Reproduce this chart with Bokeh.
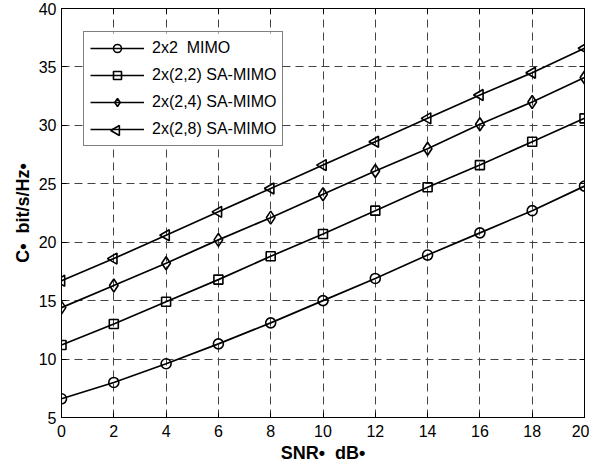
from bokeh.plotting import figure
from bokeh.models import Range1d, FixedTicker, LinearAxis, Legend, BoxAnnotation
from bokeh.embed import file_html
from bokeh.resources import INLINE
import math

snr = [0, 2, 4, 6, 8, 10, 12, 14, 16, 18, 20]
c_2x2 = [6.6, 8.0, 9.6, 11.3, 13.1, 15.0, 16.9, 18.9, 20.8, 22.7, 24.8]
c_2x22 = [11.2, 13.0, 14.9, 16.8, 18.8, 20.7, 22.7, 24.7, 26.6, 28.6, 30.6]
c_2x24 = [14.4, 16.3, 18.2, 20.2, 22.1, 24.1, 26.1, 28.0, 30.1, 32.0, 34.1]
c_2x28 = [16.7, 18.6, 20.6, 22.6, 24.6, 26.6, 28.6, 30.6, 32.6, 34.5, 36.6]
labels = ["2x2\u00a0 MIMO", "2x(2,2) SA-MIMO", "2x(2,4) SA-MIMO", "2x(2,8) SA-MIMO"]
x_ticks = [0, 2, 4, 6, 8, 10, 12, 14, 16, 18, 20]
y_ticks = [5, 10, 15, 20, 25, 30, 35, 40]

FONT = "Liberation Sans"
FW, FH = 523, 409
X0, X1, Y0, Y1 = 0, 20, 5, 40

p = figure(frame_width=FW, frame_height=FH, output_backend="svg", toolbar_location=None,
           x_range=Range1d(X0, X1), y_range=Range1d(Y0, Y1),
           min_border_left=61, min_border_right=5, min_border_top=8, min_border_bottom=40)
p.outline_line_color = "black"
p.outline_line_width = 1
p.background_fill_color = "white"
p.border_fill_color = "white"

for ax, ticks in ((p.xaxis[0], x_ticks), (p.yaxis[0], y_ticks)):
    ax.ticker = FixedTicker(ticks=ticks)
    ax.minor_tick_line_color = None
    ax.major_tick_in = 5
    ax.major_tick_out = 0
    ax.major_tick_line_color = "black"
    ax.axis_line_color = "black"
    ax.major_label_text_font = FONT
    ax.major_label_text_font_size = "16px"
    ax.major_label_text_color = "black"
    ax.axis_label_text_font = FONT
    ax.axis_label_text_font_size = "18px"
    ax.axis_label_text_font_style = "bold"
    ax.axis_label_text_color = "black"

p.xaxis.axis_label = "SNR\u2022\u00a0 dB\u2022"
p.yaxis.axis_label = "C\u2022\u00a0 bit/s/Hz\u2022"
p.xaxis.major_label_standoff = 7
p.yaxis.major_label_standoff = 5
p.xaxis.axis_label_standoff = 3
p.yaxis.axis_label_standoff = 3

for loc, ticks in (("right", y_ticks), ("above", x_ticks)):
    ax = LinearAxis(ticker=FixedTicker(ticks=ticks), major_label_text_font_size="0px",
                    major_tick_in=5, major_tick_out=0, minor_tick_line_color=None,
                    axis_line_color="black", major_label_standoff=0)
    p.add_layout(ax, loc)

p.xgrid.ticker = FixedTicker(ticks=x_ticks)
p.ygrid.ticker = FixedTicker(ticks=y_ticks)
p.grid.grid_line_color = "#444444"
p.grid.grid_line_dash = "8 5"
p.grid.grid_line_width = 1

# legend geometry (screen px relative to frame bottom-left)
LX, LY, LW = 22, 271, 197
PAD, GW, GH, LH, SP = 6, 54, 20, 17, 7
n_rows = 4
legend_h = 2 * PAD + n_rows * GH + (n_rows - 1) * SP


def to_x(px):
    return X0 + px / FW * (X1 - X0)


def to_y(px):
    return Y0 + px / FH * (Y1 - Y0)


# white legend background drawn above the grid, below the data glyphs
p.add_layout(BoxAnnotation(left=to_x(LX), right=to_x(LX + LW), bottom=to_y(LY),
                           top=to_y(LY + legend_h), fill_color="white", fill_alpha=1,
                           line_alpha=0, level="underlay"))

series = [c_2x2, c_2x22, c_2x24, c_2x28]
markers = ["circle", "square", "diamond", "triangle"]
sizes = [10, 9, 13, 11]
angles = [0, 0, 0, math.pi / 2]
items = []
for i, (ys, mk, sz, ang, lab) in enumerate(zip(series, markers, sizes, angles, labels)):
    l = p.line(snr, ys, line_color="black", line_width=1.7)
    s = p.scatter(snr, ys, marker=mk, size=sz, angle=ang, line_color="black",
                  line_width=1.6, fill_alpha=0)
    if ang == 0:
        items.append((lab, [l, s]))
    else:
        items.append((lab, [l]))

legend = Legend(items=items, location=(LX, LY))
legend.label_text_font = FONT
legend.label_text_font_size = "16px"
legend.label_text_color = "black"
legend.glyph_width = GW
legend.glyph_height = GH
legend.label_height = LH
legend.spacing = SP
legend.padding = PAD
legend.label_standoff = 8
legend.border_line_color = "black"
legend.border_line_width = 1
legend.background_fill_alpha = 0
legend.margin = 0
p.add_layout(legend, "center")

# left-pointing triangle sample for the legend's last row
row_cy = LY + legend_h - PAD - (n_rows - 1) * (GH + SP) - GH / 2
row_cx = LX + PAD + GW / 2
p.scatter([to_x(row_cx)], [to_y(row_cy)], marker="triangle", size=10, angle=math.pi / 2,
          line_color="black", line_width=1.6, fill_alpha=0)

open("out.html", "w").write(file_html(p, INLINE))
